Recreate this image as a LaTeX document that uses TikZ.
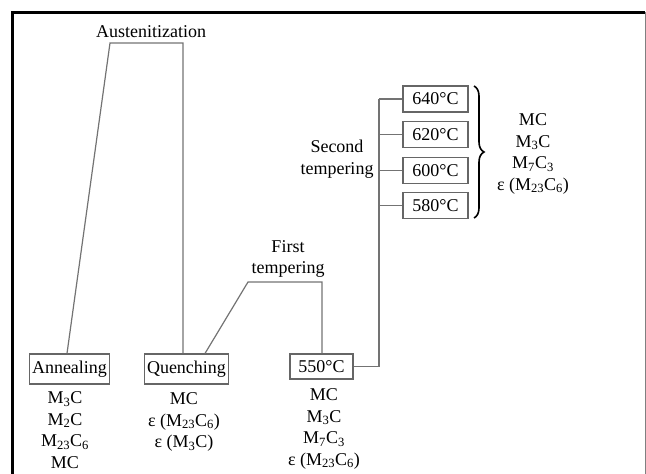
\documentclass[tikz,border=0pt]{standalone}
\usepackage{fontspec}
\setmainfont{Liberation Serif}
\usetikzlibrary{calc}
\usetikzlibrary{decorations.pathreplacing}
\newcommand{\sbs}[1]{\textsubscript{#1}}

\begin{document}
\begin{tikzpicture}[x=1pt, y=-1pt,
    font=\fontsize{18}{21.5}\selectfont,
    lnk/.style={draw=black!55, line width=1.2pt},
    stagebox/.style={draw=black!60, line width=1.1pt, inner xsep=2.5pt, minimum height=30pt},
    tempbox/.style={draw=black!60, line width=1.1pt, inner sep=0pt, minimum width=65pt, minimum height=26pt},
    lst/.style={align=center, inner sep=0pt}]

    \useasboundingbox (0,0) rectangle (646,474);

    % Frame
    \draw[line width=3pt] (12,474) -- (12,12) -- (645,12);
    \draw[black!50, line width=1pt] (645,12) -- (645,474);

    % Stages
    \node[stagebox] (anneal) at (69.5,369) {Annealing};
    \node[stagebox] (quench) at (186.5,369) {Quenching};
    \node[tempbox, minimum width=63pt, minimum height=25pt] (t550) at (321.5,366.5) {550°C};

    \node[tempbox] (t640) at (435.5,99) {640°C};
    \node[tempbox] (t620) at (435.5,134.5) {620°C};
    \node[tempbox] (t600) at (435.5,170.5) {600°C};
    \node[tempbox] (t580) at (435.5,205.5) {580°C};

    % Labels
    \node (aust) at (151,32) {Austenitization};
    \node[lst] (first) at (288,259) {First\\tempering};
    \node[lst] (second) at (337,159) {Second\\tempering};

    % Carbides
    \node[lst] (annlist) at (65,430) {M\sbs{3}C\\M\sbs{2}C\\M\sbs{23}C\sbs{6}\\MC};
    \node[lst] (qlist) at (184,422) {MC\\ε (M\sbs{23}C\sbs{6})\\ε (M\sbs{3}C)};
    \node[lst] (flist) at (324,429) {MC\\M\sbs{3}C\\M\sbs{7}C\sbs{3}\\ε (M\sbs{23}C\sbs{6})};
    \node[lst] (slist) at (533,154) {MC\\M\sbs{3}C\\M\sbs{7}C\sbs{3}\\ε (M\sbs{23}C\sbs{6})};

    % Austenitization and quench
    \coordinate (aus1) at (110,43);
    \coordinate (aus2) at (183,43);
    \draw[lnk] ([xshift=-2.5pt]anneal.north) -- (aus1) -- (aus2) -- (aus2 |- quench.north);

    % First tempering
    \coordinate (ft1) at (248,282);
    \coordinate (ft2) at (322,282);
    \draw[lnk] ([xshift=18.5pt]quench.north) -- (ft1) -- (ft2) -- (ft2 |- t550.north);

    % Second tempering
    \coordinate (st) at (379,99);
    \draw[lnk] (t550.east) -- (t550.east -| st) -- (st);
    \foreach \t in {t640,t620,t600,t580}
        \draw[lnk] (st |- \t.west) -- (\t.west);

    \draw[line width=1.6pt, decorate, decoration={brace, amplitude=10pt}]
        (474,86) -- (474,218);

\end{tikzpicture}
\end{document}
